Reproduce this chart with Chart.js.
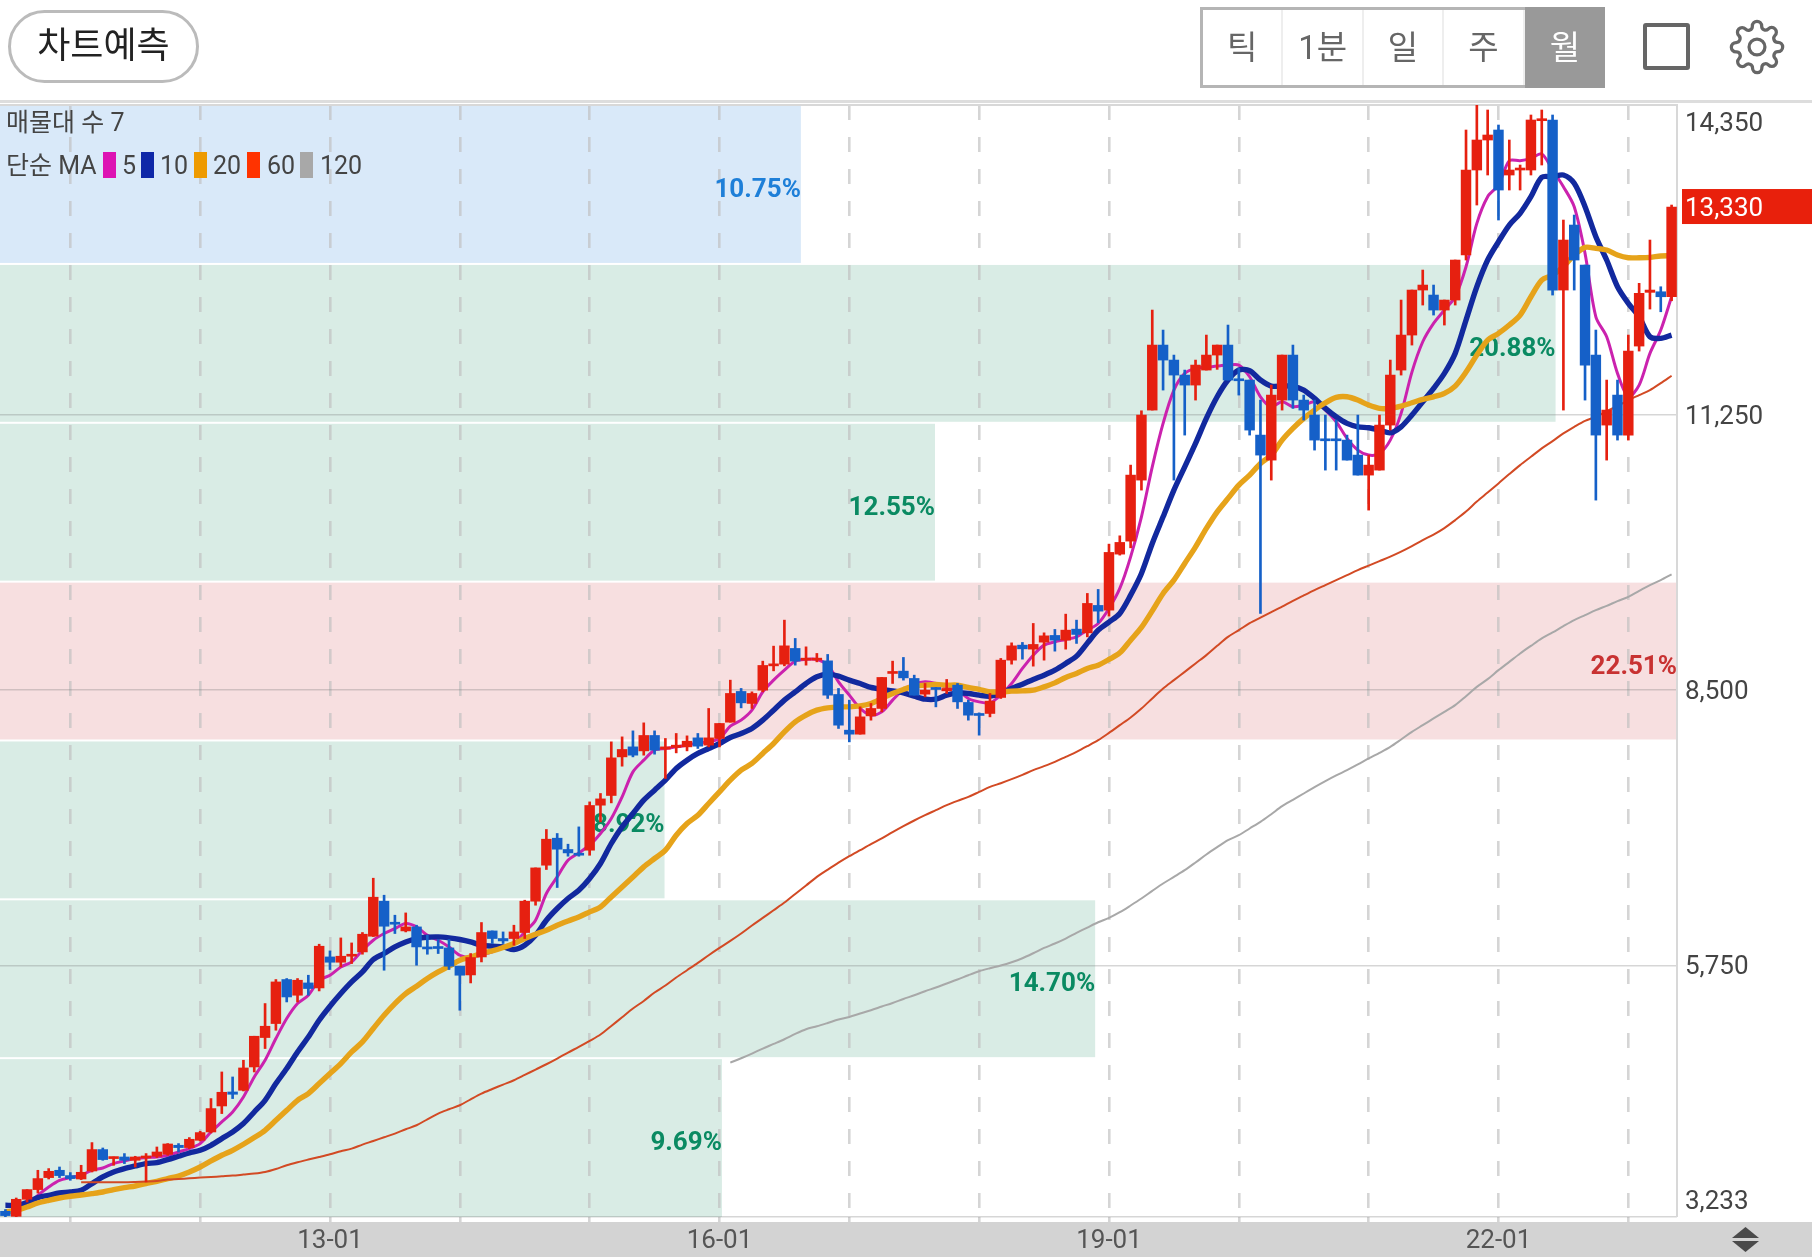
<!DOCTYPE html>
<html lang="ko">
<head>
    <meta charset="UTF-8">
    <title>월봉 차트</title>
    <style>
        html, body { margin: 0; padding: 0; background: #fff; }
        body { width: 1812px; height: 1257px; position: relative; overflow: hidden; font-family: Roboto, "Noto Sans CJK KR", sans-serif; }
        canvas { position: absolute; left: 0; top: 0; }
        .hr { position: absolute; left: 0; top: 100px; width: 1812px; height: 3px; background: #ddd; }
        .pill { position: absolute; left: 8px; top: 10px; width: 191px; height: 73px; box-sizing: border-box; border: 3px solid #bbb; border-radius: 37px; text-align: center; line-height: 67px; font-size: 36px; color: #222; }
        .tabs { position: absolute; left: 1200px; top: 7px; width: 405px; height: 81px; box-sizing: border-box; border: 3px solid #b5b5b5; display: flex; }
        .tabs div { width: 79px; text-align: center; line-height: 76px; font-size: 33px; color: #666; border-right: 2px solid #eee; }
        .tabs div.on { width: 81px; background: #999; color: #fff; border-right: 0; margin: -3px -3px -3px 0; line-height: 82px; }
        .square { position: absolute; left: 1643px; top: 23px; width: 47px; height: 47px; box-sizing: border-box; border: 4px solid #666; border-radius: 3px; }
        .gear { position: absolute; left: 1729px; top: 19px; }
        .legend { position: absolute; font-size: 25px; color: #444; line-height: 30px; white-space: nowrap; }
        .sw { position: absolute; top: 152px; width: 13px; height: 26px; }
        .sort { position: absolute; left: 1732px; top: 1227px; }
    </style>
</head>
<body>
    <canvas id="chart" width="1812" height="1257"></canvas>
    <div class="hr"></div>
    <div class="pill">차트예측</div>
    <div class="tabs"><div>틱</div><div>1분</div><div>일</div><div>주</div><div class="on">월</div></div>
    <div class="square"></div>
    <svg class="gear" width="56" height="56" viewBox="0 0 24 24" fill="none" stroke="#666" stroke-width="1.4">
        <circle cx="12" cy="12" r="3.4"></circle>
        <path d="M19.4 15a1.65 1.65 0 0 0 .33 1.82l.06.06a2 2 0 0 1 0 2.83 2 2 0 0 1-2.83 0l-.06-.06a1.65 1.65 0 0 0-1.82-.33 1.65 1.65 0 0 0-1 1.51V21a2 2 0 0 1-2 2 2 2 0 0 1-2-2v-.09A1.65 1.65 0 0 0 9 19.4a1.65 1.65 0 0 0-1.82.33l-.06.06a2 2 0 0 1-2.83 0 2 2 0 0 1 0-2.83l.06-.06a1.65 1.65 0 0 0 .33-1.82 1.65 1.65 0 0 0-1.51-1H3a2 2 0 0 1-2-2 2 2 0 0 1 2-2h.09A1.65 1.65 0 0 0 4.6 9a1.65 1.65 0 0 0-.33-1.82l-.06-.06a2 2 0 0 1 0-2.83 2 2 0 0 1 2.83 0l.06.06a1.65 1.65 0 0 0 1.82.33H9a1.65 1.65 0 0 0 1-1.51V3a2 2 0 0 1 2-2 2 2 0 0 1 2 2v.09a1.65 1.65 0 0 0 1 1.51 1.65 1.65 0 0 0 1.82-.33l.06-.06a2 2 0 0 1 2.83 0 2 2 0 0 1 0 2.83l-.06.06a1.65 1.65 0 0 0-.33 1.82V9a1.65 1.65 0 0 0 1.51 1H21a2 2 0 0 1 2 2 2 2 0 0 1-2 2h-.09a1.65 1.65 0 0 0-1.51 1z"></path>
    </svg>
    <div class="legend" style="left:6px;top:108px">매물대 수 7</div>
    <div class="legend" style="left:6px;top:151px">단순 MA</div>
    <div class="sw" style="left:103px;background:#dd13b3"></div><div class="legend" style="left:122px;top:151px">5</div>
    <div class="sw" style="left:141px;background:#0f28a8"></div><div class="legend" style="left:160px;top:151px">10</div>
    <div class="sw" style="left:194px;background:#ee9a00"></div><div class="legend" style="left:213px;top:151px">20</div>
    <div class="sw" style="left:247px;background:#ff3300"></div><div class="legend" style="left:267px;top:151px">60</div>
    <div class="sw" style="left:300px;background:#a8a8a8"></div><div class="legend" style="left:320px;top:151px">120</div>
    <svg class="sort" width="27" height="25" viewBox="0 0 27 25" fill="#4a4a4a">
        <path d="M13.5 0 L27 11 L0 11 Z"></path><path d="M13.5 25 L27 14 L0 14 Z"></path>
    </svg>

    <script src="https://cdn.jsdelivr.net/npm/chart.js"></script>
    <script>
        const months = [
            '10-07','10-08','10-09','10-10','10-11','10-12',
            '11-01','11-02','11-03','11-04','11-05','11-06','11-07','11-08','11-09','11-10','11-11','11-12',
            '12-01','12-02','12-03','12-04','12-05','12-06','12-07','12-08','12-09','12-10','12-11','12-12',
            '13-01','13-02','13-03','13-04','13-05','13-06','13-07','13-08','13-09','13-10','13-11','13-12',
            '14-01','14-02','14-03','14-04','14-05','14-06','14-07','14-08','14-09','14-10','14-11','14-12',
            '15-01','15-02','15-03','15-04','15-05','15-06','15-07','15-08','15-09','15-10','15-11','15-12',
            '16-01','16-02','16-03','16-04','16-05','16-06','16-07','16-08','16-09','16-10','16-11','16-12',
            '17-01','17-02','17-03','17-04','17-05','17-06','17-07','17-08','17-09','17-10','17-11','17-12',
            '18-01','18-02','18-03','18-04','18-05','18-06','18-07','18-08','18-09','18-10','18-11','18-12',
            '19-01','19-02','19-03','19-04','19-05','19-06','19-07','19-08','19-09','19-10','19-11','19-12',
            '20-01','20-02','20-03','20-04','20-05','20-06','20-07','20-08','20-09','20-10','20-11','20-12',
            '21-01','21-02','21-03','21-04','21-05','21-06','21-07','21-08','21-09','21-10','21-11','21-12',
            '22-01','22-02','22-03','22-04','22-05','22-06','22-07','22-08','22-09','22-10','22-11','22-12',
            '23-01','23-02','23-03','23-04','23-05'
        ];
        const shownLabels = ['13-01', '16-01', '19-01', '22-01'];

        const opens = [
            3290,3240,3410,3507,3627,3700,3647,3613,3693,3907,
            3817,3833,3800,3823,3840,3860,3950,3927,4000,4083,
            4343,4483,4500,4733,5027,5167,5607,5450,5573,5523,
            5833,5780,5840,5883,6040,6390,6173,6093,6133,5933,
            5933,5923,5740,5653,5833,6093,6017,6017,6077,6390,
            6750,7020,6907,6860,6900,7350,7447,7833,7933,7893,
            8047,7910,7927,7933,8023,7950,8017,8180,8487,8367,
            8500,8743,8760,8917,8800,8800,8793,8457,8100,8060,
            8243,8317,8667,8690,8617,8460,8520,8493,8550,8377,
            8260,8267,8427,8800,8950,8910,8980,9047,9000,9110,
            9073,9347,9300,9860,9990,10600,11300,11950,11800,11650,
            11550,11700,11850,11950,11607,11600,11050,10800,11400,11850,
            11400,11250,11007,11007,11000,10850,10650,10700,11150,11700,
            12050,12500,12450,12300,12400,12850,13700,14000,14100,13650,
            13700,13700,14193,14200,12500,13150,12750,11850,11150,11450,
            11050,11940,12477,12483,12433
        ];
        const closes = [
            3247,3410,3507,3617,3690,3647,3617,3680,3907,3807,
            3833,3800,3833,3840,3883,3963,3927,4010,4077,4317,
            4480,4460,4723,5040,5140,5583,5433,5600,5517,5940,
            5780,5840,5857,6060,6430,6140,6160,6133,5933,5913,
            5917,5740,5650,5827,6077,6017,5993,6083,6390,6723,
            7010,6910,6873,6850,7347,7413,7823,7907,7850,8047,
            7900,7933,7950,7990,7940,8023,8167,8467,8373,8467,
            8747,8760,8943,8790,8817,8820,8450,8150,8060,8233,
            8317,8627,8683,8623,8450,8500,8507,8517,8383,8250,
            8247,8390,8800,8943,8913,8957,9043,9000,9100,9057,
            9367,9290,9877,9977,10650,11250,11950,11800,11650,11550,
            11750,11850,11950,11600,11593,11100,10850,11450,11850,11400,
            11300,11000,10993,10993,10800,10650,10750,11150,11650,12050,
            12500,12550,12300,12400,12800,13700,14000,14050,13500,13700,
            13710,14200,14210,12500,13000,12800,11750,11050,11300,11050,
            11890,12467,12500,12433,13330
        ];
        const highs = [
            3307,3423,3507,3700,3717,3733,3677,3750,3977,3923,
            3833,3867,3840,3867,3933,3967,3967,4027,4090,4417,
            4683,4633,4800,5040,5367,5607,5617,5617,5650,5960,
            5893,6023,5973,6077,6620,6450,6250,6273,6150,6050,
            6007,6007,5740,5867,6177,6093,6083,6150,6400,6723,
            7107,7067,6960,7133,7383,7467,7983,8033,8093,8173,
            8093,8017,8067,8043,8067,8317,8167,8600,8517,8483,
            8790,8940,9200,9017,8933,8867,8857,8517,8400,8333,
            8367,8627,8790,8827,8650,8567,8527,8607,8567,8400,
            8273,8467,8817,8973,8977,9167,9073,9107,9260,9200,
            9467,9507,9960,10043,10750,11293,12300,12100,11850,11700,
            11800,12050,11950,12150,11717,11600,11400,11550,11850,11950,
            11450,11400,11250,11200,11050,11250,10850,11250,11800,12400,
            12500,12700,12550,12400,12800,14100,14350,14300,14150,14000,
            13750,14250,14300,14250,13200,13250,12750,12100,11600,11600,
            12050,12567,13000,12533,13350
        ];
        const lows = [
            3233,3233,3383,3473,3613,3627,3600,3607,3683,3800,
            3750,3767,3733,3583,3827,3850,3883,3917,3993,4073,
            4267,4417,4493,4683,4917,5100,5383,5383,5450,5493,
            5707,5733,5767,5860,6037,5700,6067,6083,5750,5860,
            5867,5707,5300,5573,5783,5967,5967,5950,6017,6350,
            6707,6527,6840,6840,6850,7183,7373,7740,7833,7850,
            7860,7617,7873,7893,7917,7933,7933,8180,8323,8317,
            8483,8693,8743,8750,8750,8783,8417,8117,7983,8060,
            8200,8283,8567,8600,8450,8433,8333,8467,8317,8200,
            8050,8233,8417,8760,8810,8740,8800,8890,8910,8967,
            9033,9173,9240,9850,9923,10500,11300,11500,10600,11050,
            11400,11700,11707,11600,11450,11050,9267,10600,11300,11317,
            11200,10900,10700,10700,10800,10650,10300,10700,11100,11650,
            11950,12350,12250,12150,12350,12800,13350,13650,13200,13500,
            13500,13650,13750,12450,11300,12500,11400,10400,10800,11000,
            11000,11890,12310,12283,12393
        ];

        const ma5 = [
            null,3317,3350,3450,3533,3600,3627,3650,3700,3723,
            3767,3793,3817,3827,3833,3850,3883,3917,3967,4083,
            4183,4283,4433,4633,4800,5017,5217,5367,5450,5600,
            5650,5733,5783,5900,6000,6067,6117,6167,6133,6050,
            6000,5933,5850,5827,5850,5883,5933,5967,6083,6200,
            6467,6633,6800,6873,6950,7067,7217,7433,7683,7800,
            7900,7917,7933,7950,7973,7983,8017,8140,8200,8300,
            8483,8600,8700,8790,8807,8807,8750,8583,8450,8317,
            8250,8283,8400,8507,8560,8583,8567,8527,8500,8417,
            8383,8373,8450,8567,8717,8850,8950,8983,9007,9033,
            9100,9167,9317,9517,9833,10233,10733,11167,11500,11667,
            11717,11727,11740,11750,11750,11633,11433,11333,11383,11333,
            11350,11383,11300,11183,11017,10900,10850,10867,11000,11267,
            11680,11983,12167,12300,12433,12733,13167,13433,13550,13793,
            13793,13817,13860,13700,13533,13333,12867,12233,12033,11667,
            11433,11550,11867,12100,12433
        ];
        const ma10 = [
            3350,3350,3377,3427,3450,3473,3483,3500,3567,3633,
            3683,3717,3743,3767,3777,3807,3840,3873,3900,3950,
            4017,4083,4167,4283,4400,4567,4717,4883,5033,5200,
            5340,5467,5583,5683,5807,5867,5933,5983,6017,6030,
            6033,6023,6007,5983,5950,5940,5933,5907,5950,6050,
            6200,6317,6417,6500,6617,6767,6967,7133,7267,7400,
            7500,7600,7717,7800,7867,7917,7967,8027,8067,8117,
            8200,8300,8400,8483,8567,8633,8660,8640,8600,8567,
            8527,8507,8493,8473,8440,8410,8410,8450,8473,8467,
            8450,8440,8467,8517,8560,8607,8650,8700,8767,8840,
            8970,9100,9180,9267,9450,9667,9967,10233,10500,10733,
            10967,11217,11433,11600,11700,11693,11600,11540,11540,11540,
            11500,11417,11317,11233,11167,11133,11123,11100,11073,11133,
            11250,11383,11517,11667,11867,12200,12533,12800,12983,13150,
            13267,13433,13627,13633,13650,13567,13333,13033,12800,12533,
            12367,12233,12033,12017,12050
        ];
        const ma20 = [
            3283,3300,3333,3373,3400,3423,3440,3453,3467,3483,
            3507,3527,3543,3567,3590,3617,3643,3683,3733,3793,
            3850,3900,3960,4027,4100,4200,4300,4400,4467,4567,
            4667,4767,4883,4983,5117,5250,5367,5467,5540,5617,
            5683,5740,5800,5833,5867,5893,5927,5967,6017,6060,
            6100,6150,6193,6233,6283,6333,6433,6533,6633,6733,
            6817,6900,7050,7167,7250,7367,7483,7600,7700,7767,
            7867,7967,8083,8183,8250,8300,8323,8333,8333,8343,
            8367,8417,8467,8507,8540,8550,8557,8550,8550,8527,
            8507,8483,8483,8490,8493,8500,8533,8573,8627,8667,
            8717,8750,8807,8873,9000,9127,9293,9467,9600,9767,
            9933,10117,10283,10417,10550,10650,10767,10850,11000,11117,
            11217,11300,11373,11427,11433,11400,11350,11317,11317,11340,
            11373,11407,11433,11467,11540,11680,11850,12000,12067,12150,
            12250,12433,12600,12650,12733,12850,12927,12917,12900,12850,
            12823,12823,12827,12840,12843
        ];
        const ma60 = [
            null,null,null,null,null,null,null,3580,3580,3580,
            3580,3580,3583,3587,3593,3607,3613,3620,3627,3633,
            3640,3647,3657,3667,3683,3713,3750,3780,3807,3833,
            3860,3890,3917,3957,3993,4030,4067,4110,4150,4210,
            4267,4310,4350,4410,4467,4513,4557,4600,4653,4707,
            4760,4817,4877,4933,4993,5057,5143,5230,5317,5393,
            5477,5547,5627,5700,5773,5850,5923,5993,6067,6147,
            6223,6300,6377,6463,6547,6633,6705,6775,6840,6900,
            6960,7017,7080,7140,7197,7250,7300,7350,7393,7433,
            7483,7533,7570,7610,7653,7700,7740,7783,7833,7883,
            7940,8000,8073,8150,8227,8317,8417,8517,8600,8683,
            8767,8850,8943,9033,9100,9170,9225,9280,9335,9393,
            9447,9500,9550,9600,9650,9700,9745,9790,9835,9885,
            9940,10000,10055,10120,10200,10285,10385,10475,10567,10660,
            10750,10833,10917,10990,11067,11133,11193,11233,11290,11340,
            11400,11450,11500,11570,11643
        ];
        const ma120 = [
            null,null,null,null,null,null,null,null,null,null,
            null,null,null,null,null,null,null,null,null,null,
            null,null,null,null,null,null,null,null,null,null,
            null,null,null,null,null,null,null,null,null,null,
            null,null,null,null,null,null,null,null,null,null,
            null,null,null,null,null,null,null,null,null,null,
            null,null,null,null,null,null,null,4777,4820,4867,
            4917,4963,5010,5063,5110,5140,5173,5207,5233,5267,
            5300,5337,5373,5413,5450,5490,5527,5567,5607,5650,
            5690,5720,5747,5780,5820,5870,5923,5967,6017,6073,
            6127,6180,6223,6280,6347,6417,6493,6567,6633,6700,
            6777,6857,6930,7000,7050,7117,7183,7260,7340,7403,
            7467,7530,7590,7647,7700,7757,7817,7873,7933,8007,
            8083,8150,8217,8283,8350,8440,8533,8610,8700,8783,
            8867,8943,9017,9077,9140,9200,9250,9300,9343,9390,
            9433,9493,9550,9600,9657
        ];

        // 매물대: 가격 구간과 비율
        const bandLows  = [3233, 4821, 6409, 7997, 9585, 11173, 12761];
        const bandHighs = [4821, 6409, 7997, 9585, 11173, 12761, 14350];
        const bandPcts  = [9.69, 14.70, 8.92, 22.51, 12.55, 20.88, 10.75];
        const bandFills = ['#d9ece5', '#d9ece5', '#d9ece5', '#f7dfe0', '#d9ece5', '#d9ece5', '#d9e9f9'];
        const bandTexts = ['#0a8a62', '#0a8a62', '#0a8a62', '#c83232', '#0a8a62', '#0a8a62', '#1e7fd8'];

        const priceTicks = [14350, 11250, 8500, 5750, 3233];
        const lastPrice = 13330;

        const UP = '#e62010';
        const DOWN = '#1560c8';
        const isUp = closes.map((c, i) => c >= opens[i]);
        const candleColors = isUp.map(u => u ? UP : DOWN);

        function fmt(v) {
            return v.toLocaleString('en-US');
        }

        // 매물대는 격자 아래, 퍼센트 글자는 이동평균선 아래에 그린다
        const bandPlugin = {
            id: 'bands',
            beforeDraw(chart) {
                const { ctx, chartArea: a, scales: { y } } = chart;
                const maxPct = Math.max(...bandPcts);
                ctx.save();
                ctx.fillStyle = '#d3d3d3';
                ctx.fillRect(0, 1222, 1812, 35);
                bandPcts.forEach((p, i) => {
                    const top = y.getPixelForValue(bandHighs[i]) + (i === 6 ? 0 : 1);
                    const bottom = y.getPixelForValue(bandLows[i]) - (i === 0 ? 0 : 1);
                    ctx.fillStyle = bandFills[i];
                    ctx.fillRect(a.left, top, a.width * p / maxPct, bottom - top);
                });
                ctx.restore();
            },
            beforeDatasetsDraw(chart) {
                const { ctx, chartArea: a, scales: { y } } = chart;
                const maxPct = Math.max(...bandPcts);
                ctx.save();
                ctx.strokeStyle = '#d8d8d8';
                ctx.lineWidth = 2;
                ctx.beginPath();
                ctx.moveTo(a.left, a.top);
                ctx.lineTo(a.right, a.top);
                ctx.lineTo(a.right, a.bottom);
                ctx.stroke();
                ctx.font = 'bold 26px Roboto, "Noto Sans"';
                ctx.textAlign = 'right';
                ctx.textBaseline = 'middle';
                bandPcts.forEach((p, i) => {
                    const mid = y.getPixelForValue((bandLows[i] + bandHighs[i]) / 2) + 6;
                    ctx.fillStyle = bandTexts[i];
                    ctx.fillText(p.toFixed(2) + '%', a.left + a.width * p / maxPct, mid);
                });
                ctx.restore();
            },
            afterDraw(chart) {
                const { ctx, chartArea: a, scales: { y } } = chart;
                ctx.save();
                ctx.font = '26px Roboto';
                ctx.textAlign = 'left';
                ctx.textBaseline = 'middle';
                ctx.fillStyle = '#444';
                priceTicks.forEach(t => {
                    const py = Math.min(Math.max(y.getPixelForValue(t), a.top + 17), a.bottom - 17);
                    ctx.fillText(fmt(t), a.right + 8, py + 2);
                });
                const ly = y.getPixelForValue(lastPrice);
                ctx.fillStyle = '#e8200c';
                ctx.fillRect(a.right + 5, ly - 18, 1812 - a.right - 5, 35);
                ctx.fillStyle = '#fff';
                ctx.fillText(fmt(lastPrice), a.right + 8, ly + 2);
                ctx.restore();
            }
        };

        function maLine(label, data, color, width) {
            return {
                type: 'line', label, data,
                borderColor: color, borderWidth: width,
                pointRadius: 0, tension: 0.3, order: 10, spanGaps: false
            };
        }

        new Chart(document.getElementById('chart').getContext('2d'), {
            data: {
                labels: months,
                datasets: [
                    maLine('120', ma120, '#a8a8a8', 2),
                    maLine('60', ma60, '#d24a24', 2),
                    maLine('20', ma20, '#e6a31a', 5.4),
                    maLine('10', ma10, '#12299e', 5.4),
                    maLine('5', ma5, '#cb22ae', 3),
                    {
                        type: 'bar', label: 'wick',
                        data: lows.map((l, i) => [l, highs[i]]),
                        backgroundColor: candleColors,
                        barThickness: 2, grouped: false, order: 2
                    },
                    {
                        type: 'bar', label: 'body',
                        data: opens.map((o, i) => [o, closes[i]]),
                        backgroundColor: candleColors,
                        barThickness: 9.8, grouped: false, order: 1, minBarLength: 2
                    }
                ]
            },
            plugins: [bandPlugin],
            options: {
                responsive: false,
                devicePixelRatio: 1,
                animation: false,
                layout: { padding: { top: 105 } },
                plugins: { legend: { display: false }, tooltip: { enabled: false } },
                scales: {
                    x: {
                        offset: true,
                        afterFit(scale) { scale.height = 40; },
                        grid: {
                            offset: false,
                            tickLength: 5,
                            lineWidth: 2.6,
                            color: ctx => ctx.tick && months[ctx.tick.value].endsWith('-01') ? 'rgba(190,190,190,0.65)' : 'transparent'
                        },
                        border: { display: false, dash: [15, 17] },
                        ticks: {
                            autoSkip: false, maxRotation: 0, minRotation: 0, padding: 4,
                            color: '#555', font: { family: 'Roboto', size: 26 },
                            callback(v) {
                                const m = months[v];
                                return shownLabels.includes(m) ? m : '';
                            }
                        }
                    },
                    y: {
                        position: 'right',
                        min: 3233, max: 14350,
                        afterBuildTicks(scale) { scale.ticks = priceTicks.map(value => ({ value })); },
                        afterFit(scale) { scale.width = 135; },
                        grid: { color: 'rgba(120,120,120,0.3)', lineWidth: 1.4, drawTicks: false },
                        border: { display: false },
                        ticks: { display: false }
                    }
                }
            }
        });
    </script>
</body>
</html>
